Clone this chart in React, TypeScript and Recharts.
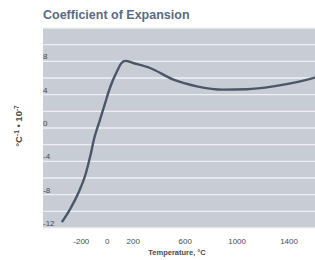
import React from "react";
import { CartesianGrid, Line, LineChart, XAxis, YAxis } from "recharts";

// temperature (°C) and expansion coefficient (°C⁻¹ · 10⁻⁷)
const temps = [-350, -285, -220, -170, -130, -100, -60, -20, 20, 75, 110, 140, 200, 330, 510, 690, 895, 1075, 1280, 1460, 1600];
const coeffs = [-11.3, -9.7, -7.7, -5.7, -3.3, -1.2, 0.8, 2.8, 4.8, 6.8, 7.8, 8.05, 7.8, 7.2, 5.8, 5.0, 4.6, 4.65, 5.0, 5.5, 6.05];

const xTicks = [-200, 0, 200, 600, 1000, 1400];
const yGrid = [-12, -10, -8, -6, -4, -2, 0, 2, 4, 6, 8, 10, 12];
const yLabels = [-12, -8, -4, 0, 4, 8];

const data = temps.map((t, i) => ({ t, v: coeffs[i] }));

const TEXT = "#4a4a4a";
const FONT = "'Liberation Sans', Arial, sans-serif";

function renderYTick(props: any) {
  const { y, payload, index } = props;
  if (!yLabels.includes(payload.value)) return <g key={index} />;
  return (
    <text key={index} x={43} y={y - 2} fontSize={8} fill={TEXT} fontFamily={FONT}>
      {payload.value}
    </text>
  );
}

export default function App() {
  return (
    <div style={{ position: "absolute", left: 0, top: 0, width: 315, height: 260, background: "#fff" }}>
      <LineChart width={315} height={260} data={data} margin={{ top: 28, right: 0, bottom: 0, left: 42 }}>
        <CartesianGrid vertical={false} fill="#c8ccd4" stroke="#eef0f3" strokeWidth={1.3} />
        <XAxis
          dataKey="t"
          type="number"
          domain={[-495, 1600]}
          ticks={xTicks}
          interval={0}
          allowDataOverflow
          axisLine={false}
          tickLine={false}
          tickMargin={4}
          height={32}
          tick={{ fontSize: 8, fill: TEXT, fontFamily: FONT }}
        />
        <YAxis
          type="number"
          domain={[-12, 12]}
          ticks={yGrid}
          interval={0}
          allowDataOverflow
          width={1}
          axisLine={false}
          tickLine={false}
          tick={renderYTick}
        />
        <Line
          dataKey="v"
          type="monotone"
          stroke="#4a5768"
          strokeWidth={2.4}
          dot={false}
          activeDot={false}
          isAnimationActive={false}
        />
      </LineChart>
      <svg width={315} height={260} style={{ position: "absolute", left: 0, top: 0, pointerEvents: "none" }}>
        <text x={43} y={18.5} fontSize={12.5} fontWeight="bold" fill="#5b6b82" fontFamily={FONT}>
          Coefficient of Expansion
        </text>
        <text
          x={177}
          y={255}
          fontSize={7.5}
          fontWeight="bold"
          fill={TEXT}
          fontFamily={FONT}
          textAnchor="middle"
        >
          Temperature, °C
        </text>
        <text
          transform="translate(22,126) rotate(-90)"
          fontSize={9.5}
          fontWeight="bold"
          fill={TEXT}
          fontFamily={FONT}
          textAnchor="middle"
        >
          °C<tspan fontSize={6.5} dy={-3.5}>-1</tspan>
          <tspan dy={3.5}> • 10</tspan>
          <tspan fontSize={6.5} dy={-3.5}>-7</tspan>
        </text>
      </svg>
    </div>
  );
}
